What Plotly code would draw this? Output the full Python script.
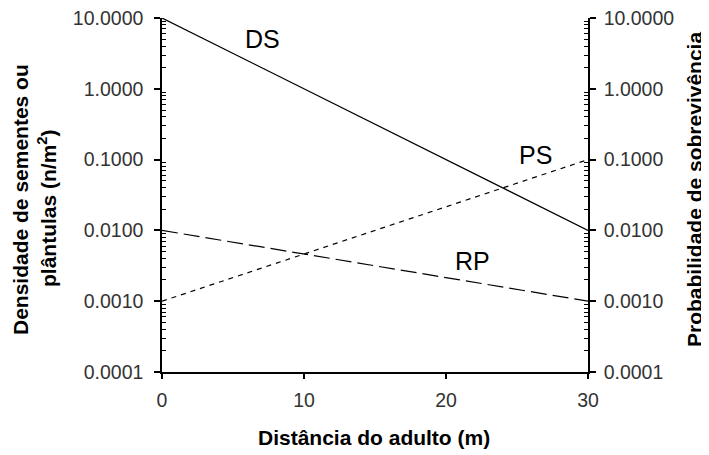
import plotly.graph_objects as go
import numpy as np

# Data
distance = [0, 30]
ds_values = [10, 0.01]      # DS: densidade de sementes
ps_values = [0.001, 0.1]    # PS: probabilidade de sobrevivência
rp_values = [0.01, 0.001]   # RP: recrutamento

y_tickvals = [0.0001, 0.001, 0.01, 0.1, 1, 10]
y_ticktext = ["0.0001", "0.0010", "0.0100", "0.1000", "1.0000", "10.0000"]
x_tickvals = [0, 10, 20, 30]
x_ticktext = ["0", "10", "20", "30"]

series_labels = ["DS", "PS", "RP"]
label_x = [7.06, 26.3, 21.9]
label_y = [5.05, 0.116, 0.0037]

FONT = "Arial, Liberation Sans, sans-serif"
minor_vals = [m * 10.0 ** k for k in range(-4, 1) for m in range(2, 10)]

# page offset (browser body margin) and target plot box in screen pixels
OFF = 8
plot_l, plot_r, plot_t, plot_b = 162, 588, 18, 372
W, H = 709 - OFF, 455 - OFF

fig = go.Figure()
fig.add_trace(go.Scatter(x=distance, y=ds_values, mode="lines", name="DS",
                         line=dict(color="black", width=1.2)))
fig.add_trace(go.Scatter(x=distance, y=rp_values, mode="lines", name="RP",
                         line=dict(color="black", width=1.2, dash="16px,6px")))
fig.add_trace(go.Scatter(x=distance, y=ps_values, mode="lines", name="PS",
                         yaxis="y2",
                         line=dict(color="black", width=1.2, dash="5px,5px")))

yaxis_common = dict(
    type="log", range=[-4, 1], tickmode="array", tickvals=y_tickvals,
    ticktext=y_ticktext, ticks="outside", ticklen=6, tickwidth=1.5,
    tickcolor="black", showline=True, linecolor="black", linewidth=1.5,
    showgrid=False, zeroline=False, automargin=False,
    ticklabeloverflow="allow",
    tickfont=dict(family=FONT, size=19.5, color="#333333"),
    minor=dict(tickmode="array", tickvals=minor_vals, ticks="inside",
               ticklen=4, tickwidth=1, tickcolor="black", showgrid=False),
    fixedrange=True,
)

fig.update_layout(
    width=W, height=H,
    margin=dict(l=plot_l - OFF, r=W - (plot_r - OFF), t=plot_t - OFF,
                b=H - (plot_b - OFF), autoexpand=False),
    paper_bgcolor="white", plot_bgcolor="white",
    showlegend=False,
    xaxis=dict(range=[0, 30], tickmode="array", tickvals=x_tickvals,
               ticktext=x_ticktext, ticks="outside", ticklen=5, tickwidth=1.5,
               tickcolor="black", showline=True, linecolor="black",
               linewidth=1.5, showgrid=False, zeroline=False, automargin=False,
               ticklabeloverflow="allow",
               tickfont=dict(family=FONT, size=19.5, color="#333333"),
               ticklabelstandoff=5, fixedrange=True),
    yaxis=dict(**yaxis_common, side="left", ticklabelstandoff=7),
    yaxis2=dict(**yaxis_common, side="right", overlaying="y",
                ticklabelstandoff=4),
)

for txt, lx, ly in zip(series_labels, label_x, label_y):
    fig.add_annotation(x=lx, y=np.log10(ly), xref="x", yref="y", text=txt,
                       showarrow=False, xanchor="center", yanchor="middle",
                       font=dict(family=FONT, size=25, color="black"))

# Axis titles (positions given in screen pixels, converted below)
title_font = dict(family=FONT, size=21, color="black", weight="bold")
titles = [
    ("Densidade de sementes ou", 20, 200, -90),
    ("plântulas (n/m<sup>2</sup>)", 47, 208, -90),
    ("Probabilidade de sobrevivência", 694, 190, -90),
    ("Distância do adulto (m)", 374, 437, 0),
]
for txt, px, py, ang in titles:
    fig.add_annotation(
        x=(px - plot_l) / (plot_r - plot_l),
        y=(plot_b - py) / (plot_b - plot_t),
        xref="paper", yref="paper", text=txt, showarrow=False,
        xanchor="center", yanchor="middle",
        textangle=ang, font=title_font)

fig.write_html("out.html")
